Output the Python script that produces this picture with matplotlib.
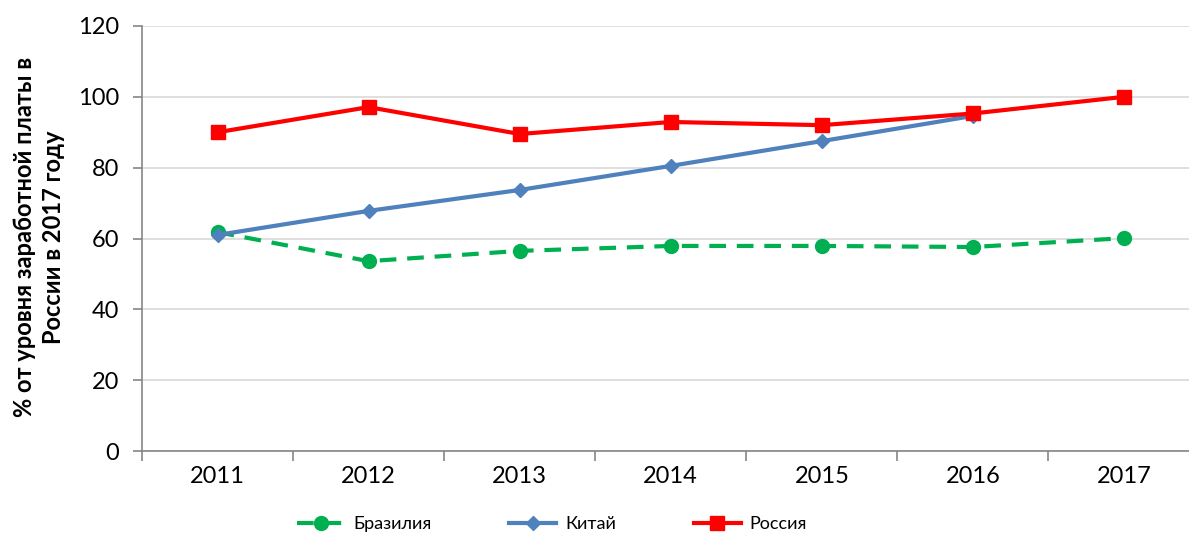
import matplotlib
matplotlib.use("Agg")
import matplotlib.pyplot as plt

years = ["2011", "2012", "2013", "2014", "2015", "2016", "2017"]
brazil = [61.8, 53.6, 56.5, 57.9, 57.9, 57.6, 60.1]
china = [61.0, 67.8, 73.7, 80.5, 87.5, 94.6]
russia = [90.0, 97.1, 89.5, 92.9, 92.0, 95.3, 100.0]
y_ticks = [0, 20, 40, 60, 80, 100, 120]

plt.rcParams["font.family"] = ["Lato", "DejaVu Sans"]

fig = plt.figure(figsize=(11.89, 5.36), dpi=100)
ax = fig.add_axes([142 / 1189, 85 / 536, (1199.5 - 142) / 1189, 425 / 536])

x = list(range(len(years)))
ax.plot(x, brazil, color="#00B050", lw=3, linestyle=(0, (4, 2.6)),
        marker="o", ms=10, label="Бразилия", zorder=3)
ax.plot(x[:len(china)], china, color="#4F81BD", lw=3,
        marker="D", ms=7.5, label="Китай", zorder=4)
ax.plot(x, russia, color="#FF0000", lw=3,
        marker="s", ms=10.5, label="Россия", zorder=5)

ax.set_xlim(-0.5, len(years) - 0.5)
ax.set_ylim(0, 120)
ax.set_yticks(y_ticks)
ax.set_xticks(x)
ax.set_xticklabels(years)
ax.set_xticks([i - 0.5 for i in range(len(years) + 1)], minor=True)
ax.tick_params(axis="x", which="major", length=0, pad=11, labelsize=17)
ax.tick_params(axis="x", which="minor", length=7, width=1.2, color="#868686", direction="out")
ax.tick_params(axis="y", length=6.5, width=1.2, color="#868686", labelsize=17, pad=10)

ax.grid(axis="y", color="#d9d9d9", lw=1.2)
ax.set_axisbelow(True)
for s in ["top", "right"]:
    ax.spines[s].set_visible(False)
for s in ["left", "bottom"]:
    ax.spines[s].set_color("#868686")
    ax.spines[s].set_linewidth(1.2)

fig.text(39 / 1189, 0.558, "% от уровня заработной платы в\nРоссии в 2017 году",
         rotation=90, ha="center", va="center", fontsize=17,
         fontweight="bold", linespacing=1.35)

fig.legend(loc="center left", bbox_to_anchor=(290 / 1189, 12 / 536), ncol=3, frameon=False,
           fontsize=13, handlelength=2.6, columnspacing=4.3, handletextpad=0.5,
           borderaxespad=0)

fig.savefig("out.png", dpi=100)
